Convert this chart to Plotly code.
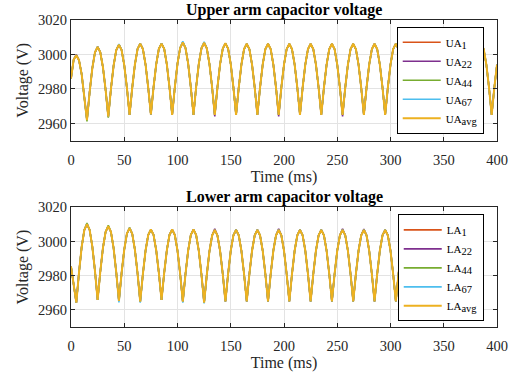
import plotly.graph_objects as go

# ---------------- data (2.5 ms sampling) ----------------
t_ms = [i * 2.5 for i in range(161)]

ua_avg = [
    2986.0, 2997.0, 2999.6, 2996.7, 2988.6, 2976.4, 2962.0,
    2978.2, 2992.0, 3001.2, 3004.4, 3001.3, 2992.6, 2979.5, 2964.0,
    2980.0, 2993.5, 3002.5, 3005.7, 3002.6, 2993.8, 2980.6, 2965.0,
    2980.8, 2994.2, 3003.2, 3006.3, 3003.2, 2994.2, 2980.8, 2965.2,
    2980.9, 2994.3, 3003.3, 3006.3, 3003.3, 2994.2, 2980.8, 2965.0,
    2981.1, 2994.7, 3003.8, 3007.0, 3003.8, 2994.7, 2981.1, 2965.0,
    2981.0, 2994.6, 3003.6, 3006.8, 3003.6, 2994.6, 2981.0, 2965.0,
    2980.9, 2994.4, 3003.4, 3006.5, 3003.4, 2994.4, 2980.9, 2965.0,
    2980.8, 2994.1, 3003.1, 3006.2, 3003.1, 2994.1, 2980.8, 2965.0,
    2980.8, 2994.1, 3003.1, 3006.2, 3003.1, 2994.1, 2980.8, 2965.0,
    2980.8, 2994.1, 3003.1, 3006.2, 3003.1, 2994.1, 2980.8, 2965.0,
    2980.8, 2994.1, 3003.1, 3006.2, 3003.1, 2994.1, 2980.8, 2965.0,
    2980.8, 2994.1, 3003.1, 3006.2, 3003.1, 2994.1, 2980.8, 2965.0,
    2980.8, 2994.1, 3003.1, 3006.2, 3003.1, 2994.1, 2980.8, 2965.0,
    2980.8, 2994.1, 3003.1, 3006.2, 3003.1, 2994.1, 2980.8, 2965.0,
    2980.8, 2994.1, 3003.1, 3006.3, 3003.1, 2994.1, 2980.8, 2965.0,
    2980.8, 2994.1, 3003.1, 3006.3, 3003.1, 2994.1, 2980.8, 2965.0,
    2980.8, 2994.1, 3003.1, 3006.3, 3003.1, 2994.1, 2980.8, 2965.0,
    2980.8, 2994.1, 3003.1, 3006.3, 3003.1, 2994.1, 2980.8, 2965.0,
    2980.8, 2994.1, 3003.1, 3006.3, 3003.1, 2994.1, 2980.8, 2965.0,
    2980.8, 2994.1,
]

la_avg = [
    2985.5, 2975.7, 2964.2,
    2981.8, 2996.7, 3006.7, 3010.2, 3006.8, 2997.2, 2982.8, 2965.8,
    2982.3, 2996.3, 3005.6, 3008.9, 3005.6, 2996.1, 2981.9, 2965.2,
    2981.5, 2995.3, 3004.6, 3007.8, 3004.5, 2995.2, 2981.3, 2964.8,
    2981.0, 2994.6, 3003.8, 3007.0, 3003.9, 2994.9, 2981.6, 2965.8,
    2981.6, 2994.9, 3003.9, 3007.0, 3003.8, 2994.6, 2981.0, 2964.8,
    2981.0, 2994.6, 3003.8, 3007.0, 3003.8, 2994.5, 2980.7, 2964.3,
    2980.5, 2994.3, 3003.5, 3006.7, 3003.5, 2994.5, 2981.0, 2965.0,
    2981.0, 2994.6, 3003.6, 3006.8, 3003.6, 2994.6, 2981.0, 2965.0,
    2981.0, 2994.6, 3003.6, 3006.8, 3003.6, 2994.6, 2981.0, 2965.0,
    2981.0, 2994.6, 3003.6, 3006.8, 3003.6, 2994.6, 2981.0, 2965.0,
    2981.0, 2994.6, 3003.6, 3006.8, 3003.6, 2994.6, 2981.0, 2965.0,
    2981.0, 2994.6, 3003.6, 3006.8, 3003.6, 2994.6, 2981.0, 2965.0,
    2981.0, 2994.6, 3003.6, 3006.8, 3003.6, 2994.6, 2981.0, 2965.0,
    2981.0, 2994.6, 3003.6, 3006.8, 3003.6, 2994.6, 2981.0, 2965.0,
    2981.0, 2994.6, 3003.6, 3006.8, 3003.6, 2994.6, 2981.0, 2965.0,
    2981.0, 2994.6, 3003.6, 3006.8, 3003.6, 2994.6, 2981.0, 2965.0,
    2981.0, 2994.6, 3003.6, 3006.8, 3003.6, 2994.6, 2981.0, 2965.0,
    2981.0, 2994.6, 3003.6, 3006.8, 3003.6, 2994.6,
]

# small deviations of single sub-modules from the average (time ms -> delta V)
ua1_dev = {}
ua22_dev = {135: -0.9, 195: -0.9, 255: -0.9, 5: 0.4}
ua44_dev = {15: -0.8, 35: -0.6}
ua67_dev = {105: 0.6, 125: 0.5, 45: 0.4}
la1_dev = {}
la22_dev = {135: 0.7, 195: 0.6, 255: 0.6, 275: 0.5}
la44_dev = {15: 0.6, 35: 0.6, 55: 0.4}
la67_dev = {45: -0.8, 65: -0.6, 105: -0.6, 125: -0.5}

SUB = "<sub><span style='font-size:10.5px'>%s</span></sub>"
upper_names = ["UA" + SUB % s for s in ["1", "22", "44", "67", "avg"]]
lower_names = ["LA" + SUB % s for s in ["1", "22", "44", "67", "avg"]]
colors = ["#D95319", "#7E2F8E", "#77AC30", "#4DBEEE", "#EDB120"]


def apply(base, dev):
    out = list(base)
    for tm, d in dev.items():
        out[int(round(tm / 2.5))] += d
    return out


upper_series = [apply(ua_avg, ua1_dev), apply(ua_avg, ua22_dev), apply(ua_avg, ua44_dev),
                apply(ua_avg, ua67_dev), ua_avg]
lower_series = [apply(la_avg, la1_dev), apply(la_avg, la22_dev), apply(la_avg, la44_dev),
                apply(la_avg, la67_dev), la_avg]

FONT = "Liberation Serif"
fig = go.Figure()

for k, (name, ys) in enumerate(zip(upper_names, upper_series)):
    fig.add_trace(go.Scatter(x=t_ms, y=ys, mode="lines", name=name,
                             line=dict(color=colors[k], width=2.0 if k == 4 else 1.6),
                             xaxis="x", yaxis="y", legend="legend", legendgroup="u%d" % k))
for k, (name, ys) in enumerate(zip(lower_names, lower_series)):
    fig.add_trace(go.Scatter(x=t_ms, y=ys, mode="lines", name=name,
                             line=dict(color=colors[k], width=2.0 if k == 4 else 1.6),
                             xaxis="x2", yaxis="y2", legend="legend2", legendgroup="l%d" % k))

axcol = "#262626"
xcommon = dict(range=[0, 400], tickvals=[0, 50, 100, 150, 200, 250, 300, 350, 400],
               ticks="inside", ticklen=4, tickcolor=axcol, mirror="allticks", showline=True,
               linecolor=axcol, linewidth=1, showgrid=True, gridcolor="#e3e3e3", gridwidth=1,
               zeroline=False, automargin=False, ticklabelstandoff=6,
               tickfont=dict(family=FONT, size=14.5, color=axcol),
               title=dict(text="Time (ms)", font=dict(family=FONT, size=16, color=axcol), standoff=0))
ycommon = dict(range=[2950, 3020], tickvals=[2960, 2980, 3000, 3020],
               ticks="inside", ticklen=4, tickcolor=axcol, mirror="allticks", showline=True,
               linecolor=axcol, linewidth=1, showgrid=True, gridcolor="#e3e3e3", gridwidth=1,
               zeroline=False, automargin=False,
               tickfont=dict(family=FONT, size=14.5, color=axcol),
               title=dict(text="Voltage (V)", font=dict(family=FONT, size=16, color=axcol), standoff=5))

legcommon = dict(xanchor="left", yanchor="top", bgcolor="white", bordercolor="black",
                 borderwidth=1, font=dict(family=FONT, size=11, color="black"),
                 tracegroupgap=0, itemwidth=38)

fig.update_layout(
    width=513, height=377,
    margin=dict(l=71, r=16, t=20, b=50),
    paper_bgcolor="white", plot_bgcolor="white",
    xaxis=dict(domain=[0, 1], anchor="y", **xcommon),
    yaxis=dict(domain=[0.6068, 1], anchor="x", **ycommon),
    xaxis2=dict(domain=[0, 1], anchor="y2", **xcommon),
    yaxis2=dict(domain=[0, 0.3899], anchor="x2", **ycommon),
    legend=dict(x=0.7646, y=0.978, **legcommon),
    legend2=dict(x=0.767, y=0.367, **legcommon),
    annotations=[
        dict(text="<b>Upper arm capacitor voltage</b>", x=0.5, y=1.0, xref="paper", yref="paper",
             xanchor="center", yanchor="bottom", showarrow=False, yshift=-1,
             font=dict(family=FONT, size=16, color="black")),
        dict(text="<b>Lower arm capacitor voltage</b>", x=0.5, y=0.3899, xref="paper", yref="paper",
             xanchor="center", yanchor="bottom", showarrow=False, yshift=-1,
             font=dict(family=FONT, size=16, color="black")),
    ],
    showlegend=True,
)

fig.write_html("out.html", config={"displayModeBar": False},
               post_script="document.body.style.margin='0px';")
